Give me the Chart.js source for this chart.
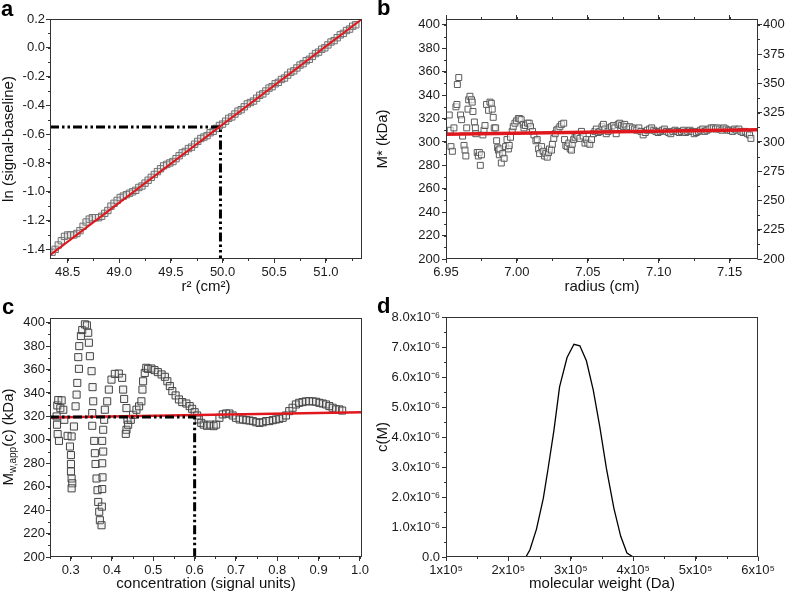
<!DOCTYPE html>
<html><head><meta charset="utf-8">
<script src="https://cdn.jsdelivr.net/npm/chart.js@4/dist/chart.umd.min.js"></script>
<style>
html,body{margin:0;padding:0;background:#fff}
body{width:787px;height:595px;overflow:hidden;position:relative;font-family:"Liberation Sans",Arial,sans-serif}
canvas{position:absolute;left:0;top:0}
.lbl{position:absolute;font-weight:bold;font-size:22px;line-height:22px;color:#000}
</style></head><body>
<canvas id="ca" width="787" height="595"></canvas>
<canvas id="cb" width="787" height="595"></canvas>
<canvas id="cc" width="787" height="595"></canvas>
<canvas id="cd" width="787" height="595"></canvas>
<div class="lbl" style="left:1px;top:-2px">a</div>
<div class="lbl" style="left:377px;top:-3px">b</div>
<div class="lbl" style="left:2px;top:296px">c</div>
<div class="lbl" style="left:377px;top:295px">d</div>
<script>
// ---------- Panel a ----------
const aR2 = [48.35,48.38,48.41,48.44,48.47,48.50,48.53,48.56,48.59,48.62,48.65,48.68,48.71,48.74,48.77,48.80,48.83,48.86,48.89,48.92,48.95,48.98,49.01,49.04,49.07,49.10,49.13,49.16,49.19,49.22,49.25,49.28,49.31,49.34,49.37,49.40,49.43,49.46,49.49,49.52,49.55,49.58,49.61,49.64,49.67,49.70,49.73,49.76,49.79,49.82,49.85,49.88,49.91,49.94,49.97,50.00,50.03,50.06,50.09,50.12,50.15,50.18,50.21,50.24,50.27,50.30,50.33,50.36,50.39,50.42,50.45,50.48,50.51,50.54,50.57,50.60,50.63,50.66,50.69,50.72,50.75,50.78,50.81,50.84,50.87,50.90,50.93,50.96,50.99,51.02,51.05,51.08,51.11,51.14,51.17,51.20,51.23,51.26,51.29];
const aLn = [-1.42,-1.40,-1.37,-1.34,-1.31,-1.30,-1.30,-1.30,-1.29,-1.27,-1.24,-1.21,-1.19,-1.18,-1.18,-1.18,-1.17,-1.15,-1.13,-1.10,-1.08,-1.06,-1.04,-1.03,-1.02,-1.01,-1.00,-0.99,-0.97,-0.96,-0.94,-0.92,-0.90,-0.88,-0.86,-0.84,-0.82,-0.81,-0.80,-0.79,-0.77,-0.75,-0.73,-0.72,-0.70,-0.69,-0.67,-0.65,-0.63,-0.62,-0.61,-0.59,-0.58,-0.56,-0.54,-0.53,-0.51,-0.49,-0.48,-0.46,-0.44,-0.43,-0.41,-0.39,-0.38,-0.37,-0.35,-0.33,-0.32,-0.30,-0.28,-0.27,-0.25,-0.24,-0.22,-0.21,-0.19,-0.17,-0.16,-0.14,-0.12,-0.11,-0.09,-0.08,-0.06,-0.04,-0.03,-0.01,0.00,0.02,0.04,0.05,0.07,0.09,0.10,0.12,0.13,0.15,0.16];
const aFitX = [48.33, 51.35];
const aFitY = [-1.44, 0.20];
const aGuideX = [48.33, 49.98, 49.98];
const aGuideY = [-0.55, -0.55, -1.467];
const aXTicks = [48.5,49.0,49.5,50.0,50.5,51.0];
const aXLabels = ['48.5','49.0','49.5','50.0','50.5','51.0'];
const aYTicks = [-1.4,-1.2,-1.0,-0.8,-0.6,-0.4,-0.2,0.0,0.2];
const aYLabels = ['-1.4','-1.2','-1.0','-0.8','-0.6','-0.4','-0.2','0.0','0.2'];

// ---------- Panel b ----------
const bRadius = [6.9523,6.9530,6.9535,6.9545,6.9556,6.9570,6.9577,6.9580,6.9590,6.9603,6.9610,6.9617,6.9627,6.9634,6.9640,6.9646,6.9655,6.9660,6.9669,6.9680,6.9685,6.9690,6.9700,6.9707,6.9710,6.9720,6.9728,6.9735,6.9742,6.9750,6.9760,6.9768,6.9775,6.9786,6.9800,6.9810,6.9820,6.9826,6.9833,6.9840,6.9850,6.9857,6.9864,6.9870,6.9876,6.9880,6.9890,6.9900,6.9910,6.9920,6.9930,6.9940,6.9946,6.9955,6.9967,6.9974,6.9986,6.9998,7.0010,7.0020,7.0030,7.0045,7.0050,7.0060,7.0075,7.0087,7.0096,7.0110,7.0120,7.0134,7.0143,7.0153,7.0160,7.0174,7.0185,7.0195,7.0204,7.0214,7.0223,7.0230,7.0244,7.0250,7.0260,7.0270,7.0280,7.0290,7.0303,7.0315,7.0330,7.0336,7.0345,7.0355,7.0366,7.0376,7.0385,7.0390,7.0400,7.0410,7.0420,7.0430,7.0444,7.0455,7.0467,7.0480,7.0490,7.0500,7.0514,7.0526,7.0540,7.0550,7.0560,7.0573,7.0585,7.0600,7.0610,7.0620,7.0630,7.0643,7.0655,7.0667,7.0680,7.0690,7.0700,7.0714,7.0725,7.0737,7.0750,7.0760,7.0770,7.0784,7.0796,7.0815,7.0830,7.0845,7.0860,7.0875,7.0890,7.0905,7.0920,7.0935,7.0950,7.0965,7.0980,7.0995,7.1010,7.1025,7.1040,7.1055,7.1070,7.1085,7.1100,7.1115,7.1130,7.1145,7.1160,7.1175,7.1190,7.1205,7.1220,7.1235,7.1250,7.1265,7.1280,7.1295,7.1310,7.1325,7.1340,7.1355,7.1370,7.1385,7.1400,7.1415,7.1430,7.1445,7.1460,7.1475,7.1490,7.1505,7.1520,7.1535,7.1550,7.1565,7.1580,7.1595,7.1610,7.1625,7.1640,7.1650];
const bMstar = [323,310,296,292,312,330,332,349,355,323,319,305,297,293,288,312,328,336,339,336,334,326,317,312,307,291,288,291,280,289,306,310,314,332,327,334,333,328,321,312,312,301,295,293,289,294,282,290,286,296,302,294,297,304,309,313,316,318,320,320,319,315,312,314,316,316,313,309,306,301,302,294,290,296,292,288,290,287,291,294,293,298,303,307,310,311,313,315,316,302,297,296,299,294,293,298,302,304,306,305,303,309,305,299,302,299,298,302,307,309,311,308,309,313,315,311,307,309,312,313,314,312,307,315,316,314,313,315,313,311,313,312,311,310,312,309,306,308,310,311,312,310,309,308,309,310,311,309,308,307,309,310,309,308,309,310,308,309,310,309,307,308,309,310,311,309,310,311,312,312,311,312,311,310,312,311,310,310,309,311,310,311,309,308,309,307,306,303];
const bFitX = [6.95, 7.17];
const bFitY = [306.5, 310.3];
const bXTicks = [6.95,7.00,7.05,7.10,7.15];
const bXLabels = ['6.95','7.00','7.05','7.10','7.15'];
const bYTicks = [200,220,240,260,280,300,320,340,360,380,400];
const bYLabels = ['200','220','240','260','280','300','320','340','360','380','400'];
const bY2Ticks = [200,225,250,275,300,325,350,375,400];
const bY2Labels = ['200','225','250','275','300','325','350','375','400'];

// ---------- Panel c ----------
const cConc = [0.2669,0.2685,0.2717,0.2660,0.2677,0.2700,0.2782,0.2750,0.2822,0.2846,0.2926,0.3023,0.2983,0.3007,0.3007,0.3007,0.3023,0.3039,0.3023,0.3079,0.3119,0.3144,0.3160,0.3200,0.3184,0.3208,0.3248,0.3280,0.3345,0.3393,0.3425,0.3441,0.3465,0.3506,0.3530,0.3546,0.3522,0.3522,0.3570,0.3586,0.3602,0.3626,0.3650,0.3667,0.3691,0.3707,0.3747,0.3755,0.3763,0.3771,0.3763,0.3787,0.3763,0.3787,0.3811,0.3827,0.3884,0.3924,0.3988,0.4069,0.4165,0.4246,0.4270,0.4294,0.4350,0.4374,0.4350,0.4334,0.4391,0.4455,0.4511,0.4592,0.4656,0.4712,0.4737,0.4753,0.4793,0.4830,0.4873,0.4954,0.503,0.511,0.520,0.528,0.534,0.540,0.546,0.554,0.562,0.570,0.580,0.588,0.594,0.600,0.606,0.610,0.616,0.622,0.630,0.638,0.646,0.652,0.660,0.668,0.676,0.684,0.692,0.700,0.709,0.717,0.725,0.733,0.741,0.749,0.757,0.765,0.773,0.781,0.789,0.797,0.805,0.813,0.821,0.829,0.837,0.845,0.853,0.861,0.869,0.877,0.886,0.894,0.902,0.910,0.918,0.926,0.934,0.942,0.950,0.957];
const cMw = [312.9,304.9,299.1,320.0,329.4,334.0,333.7,327.0,325.7,317.1,303.4,302.9,294.3,287.0,279.4,273.0,267.0,262.9,258.6,311.4,328.6,338.6,348.6,360.6,370.6,380.0,388.6,393.7,398.6,397.7,391.4,382.9,371.4,358.6,345.0,332.9,322.9,312.0,299.1,288.6,279.4,267.0,257.0,247.0,238.6,231.4,227.1,243.0,258.0,268.0,280.0,290.0,299.1,308.6,317.1,325.7,332.9,342.9,351.4,356.3,356.6,352.9,342.9,334.9,327.1,317.1,308.6,305.1,312.9,317.1,321.4,325.7,328.6,332.9,342.9,350.0,357.1,361.5,360.6,360.9,359.5,357.8,355.8,353.8,350.0,345.9,341.6,337.9,334.5,332.2,331.0,328.8,326.5,323.6,320.8,317.4,314.5,313.0,312.0,313.0,311.7,313.0,318.8,321.7,322.5,322.5,320.8,318.8,317.4,317.4,316.8,316.5,316.0,315.0,314.5,315.0,316.0,316.0,316.8,317.4,318.0,318.8,320.8,324.5,327.4,330.2,331.6,332.2,332.8,333.0,332.8,332.5,331.6,331.0,330.2,328.8,327.4,326.0,326.0,325.0];
const cFitX = [0.25, 1.005];
const cFitY = [319.0, 323.5];
const cGuideX = [0.25, 0.60, 0.60];
const cGuideY = [319.5, 319.5, 200];
const cXTicks = [0.3,0.4,0.5,0.6,0.7,0.8,0.9,1.0];
const cXLabels = ['0.3','0.4','0.5','0.6','0.7','0.8','0.9','1.0'];
const cYTicks = [200,220,240,260,280,300,320,340,360,380,400];
const cYLabels = ['200','220','240','260','280','300','320','340','360','380','400'];

// ---------- Panel d ----------
const dMW = [2.28e5,2.345e5,2.45e5,2.56e5,2.64e5,2.73e5,2.82e5,2.94e5,3.05e5,3.145e5,3.25e5,3.36e5,3.465e5,3.57e5,3.69e5,3.80e5,3.90e5,4.00e5];
const dCM = [0,0.24e-6,0.93e-6,1.96e-6,3.0e-6,4.23e-6,5.67e-6,6.65e-6,7.09e-6,7.04e-6,6.54e-6,5.56e-6,4.34e-6,2.96e-6,1.63e-6,0.69e-6,0.13e-6,0];
const dXTicks = [1e5,2e5,3e5,4e5,5e5,6e5];
const dXLabels = ['1x10\u2075','2x10\u2075','3x10\u2075','4x10\u2075','5x10\u2075','6x10\u2075'];
const dYTicks = [0,1e-6,2e-6,3e-6,4e-6,5e-6,6e-6,7e-6,8e-6];
const dYLabels = ['0.0','1.0x10\u207B\u2076','2.0x10\u207B\u2076','3.0x10\u207B\u2076','4.0x10\u207B\u2076','5.0x10\u207B\u2076','6.0x10\u207B\u2076','7.0x10\u207B\u2076','8.0x10\u207B\u2076'];

// ---------- helpers ----------
Chart.defaults.font.family = '"Liberation Sans", Arial, Helvetica, sans-serif';
Chart.defaults.font.size = 13;
Chart.defaults.color = '#1a1a1a';

const zip = (xs, ys) => xs.map((x, i) => ({x, y: ys[i]}));

function axis(o) {
  return {
    type: 'linear', position: o.pos, min: o.min, max: o.max,
    afterBuildTicks: s => { s.ticks = o.ticks.map(v => ({value: v})); },
    afterFit: s => { if (s.isHorizontal()) s.height = o.size; else s.width = o.size; },
    ticks: { autoSkip: false, maxRotation: 0, minRotation: 0, padding: o.pad === undefined ? 2 : o.pad,
             display: !!o.labels, callback: (v, i) => o.labels ? o.labels[i] : '', color: '#1a1a1a' },
    grid: { display: true, drawOnChartArea: false, drawTicks: true, tickLength: 4, color: '#333', tickColor: '#333', lineWidth: 1 },
    border: { display: false },
    title: o.title ? { display: true, text: o.title, font: {size: 15}, padding: 0, color: '#111' } : { display: false }
  };
}

const framePlugin = {
  id: 'frameMinor',
  afterDraw(chart, args, opts) {
    const ctx = chart.ctx, ca = chart.chartArea;
    ctx.save();
    ctx.strokeStyle = '#333'; ctx.lineWidth = 1;
    const L = Math.round(ca.left) + 0.5, R = Math.round(ca.right) - 0.5, T = Math.round(ca.top) + 0.5, B = Math.round(ca.bottom) - 0.5;
    ctx.strokeRect(L, T, R - L, B - T);
    (opts.minor || []).forEach(([id, step]) => {
      const s = chart.scales[id];
      const n0 = Math.ceil(s.min / step - 1e-6), n1 = Math.floor(s.max / step + 1e-6);
      ctx.beginPath();
      for (let n = n0; n <= n1; n++) {
        const p = Math.round(s.getPixelForValue(n * step)) + 0.5;
        if (s.position === 'bottom') { ctx.moveTo(p, B); ctx.lineTo(p, B + 2.5); }
        else if (s.position === 'top') { ctx.moveTo(p, T); ctx.lineTo(p, T - 2.5); }
        else if (s.position === 'left') { ctx.moveTo(L, p); ctx.lineTo(L - 2.5, p); }
        else { ctx.moveTo(R, p); ctx.lineTo(R + 2.5, p); }
      }
      ctx.stroke();
    });
    if (opts.yTitleSub) {
      const t = opts.yTitleSub;
      ctx.translate(t.x, t.y); ctx.rotate(-Math.PI / 2);
      ctx.fillStyle = '#111'; ctx.textBaseline = 'middle';
      const big = '15px "Liberation Sans", Arial, sans-serif', small = '10px "Liberation Sans", Arial, sans-serif';
      ctx.font = big; const w1 = ctx.measureText(t.main).width, w3 = ctx.measureText(t.rest).width;
      ctx.font = small; const w2 = ctx.measureText(t.sub).width;
      let x = -(w1 + w2 + w3) / 2;
      ctx.font = big; ctx.fillText(t.main, x, 0); x += w1;
      ctx.font = small; ctx.fillText(t.sub, x, 4); x += w2;
      ctx.font = big; ctx.fillText(t.rest, x, 0);
    }
    ctx.restore();
  }
};

function baseOpts(padding, scales, pluginOpts) {
  return {
    responsive: false, animation: false, events: [],
    layout: { padding },
    scales,
    plugins: { legend: {display: false}, tooltip: {enabled: false}, frameMinor: pluginOpts }
  };
}

const guideDash = [9, 3, 2.5, 3, 2.5, 3];

// ---------- chart a ----------
new Chart(document.getElementById('ca'), {
  type: 'scatter',
  data: { datasets: [
    { data: zip(aFitX, aFitY), showLine: true, borderColor: '#e0181e', borderWidth: 2, pointRadius: 0, order: 0 },
    { data: zip(aGuideX, aGuideY), showLine: true, borderColor: '#000', borderWidth: 3, borderDash: guideDash, pointRadius: 0, order: 1 },
    { data: zip(aR2, aLn), pointStyle: 'rect', pointRadius: 4.5, borderWidth: 1, borderColor: '#707070', backgroundColor: 'rgba(190,190,190,0.25)', order: 2 }
  ]},
  options: baseOpts({left: 0, right: 425, top: 19, bottom: 299}, {
    x: axis({pos: 'bottom', min: 48.33, max: 51.35, ticks: aXTicks, labels: aXLabels, size: 37, title: 'r\u00B2 (cm\u00B2)'}),
    y: axis({pos: 'left', min: -1.467, max: 0.2, ticks: aYTicks, labels: aYLabels, size: 50, pad: 1, title: 'ln (signal-baseline)'})
  }, { minor: [['x', 0.25], ['y', 0.1]] }),
  plugins: [framePlugin]
});

// ---------- chart b ----------
new Chart(document.getElementById('cb'), {
  type: 'scatter',
  data: { datasets: [
    { data: zip(bFitX, bFitY), showLine: true, borderColor: '#e0181e', borderWidth: 3.5, pointRadius: 0, order: 0 },
    { data: zip(bRadius, bMstar), pointStyle: 'rect', pointRadius: 4.2, borderWidth: 1, borderColor: '#5a5a5a', backgroundColor: 'rgba(255,255,255,0.6)', order: 1 }
  ]},
  options: baseOpts({left: 374, right: 0, top: 0, bottom: 299}, {
    x: axis({pos: 'bottom', min: 6.95, max: 7.17, ticks: bXTicks, labels: bXLabels, size: 37, title: 'radius (cm)'}),
    x2: axis({pos: 'top', min: 6.95, max: 7.17, ticks: bXTicks, labels: null, size: 19}),
    y: axis({pos: 'left', min: 200, max: 405, ticks: bYTicks, labels: bYLabels, size: 72, title: 'M* (kDa)'}),
    y2: axis({pos: 'right', min: 200, max: 405, ticks: bY2Ticks, labels: bY2Labels, size: 29, pad: 1})
  }, { minor: [['x', 0.025], ['x2', 0.025], ['y', 10], ['y2', 12.5]] }),
  plugins: [framePlugin]
});

// ---------- chart c ----------
new Chart(document.getElementById('cc'), {
  type: 'scatter',
  data: { datasets: [
    { data: zip(cGuideX, cGuideY), showLine: true, borderColor: '#000', borderWidth: 3, borderDash: guideDash, pointRadius: 0, order: 0 },
    { data: zip(cFitX, cFitY), showLine: true, borderColor: '#e0181e', borderWidth: 2.5, pointRadius: 0, order: 1 },
    { data: zip(cConc, cMw), pointStyle: 'rect', pointRadius: 5, borderWidth: 1, borderColor: '#444', backgroundColor: 'rgba(200,200,200,0.2)', order: 2 }
  ]},
  options: baseOpts({left: 0, right: 425, top: 318, bottom: 2}, {
    x: axis({pos: 'bottom', min: 0.25, max: 1.005, ticks: cXTicks, labels: cXLabels, size: 36, title: 'concentration (signal units)'}),
    y: axis({pos: 'left', min: 200, max: 404, ticks: cYTicks, labels: cYLabels, size: 50, pad: 1})
  }, { minor: [['x', 0.05], ['y', 10]], yTitleSub: {x: 9, y: 437, main: 'M', sub: 'w,app', rest: '(c) (kDa)'} }),
  plugins: [framePlugin]
});

// ---------- chart d ----------
new Chart(document.getElementById('cd'), {
  type: 'scatter',
  data: { datasets: [
    { data: zip(dMW, dCM), showLine: true, borderColor: '#000', borderWidth: 1.3, pointRadius: 0, tension: 0 }
  ]},
  options: baseOpts({left: 374, right: 29, top: 317, bottom: 2}, {
    x: axis({pos: 'bottom', min: 1e5, max: 6e5, ticks: dXTicks, labels: dXLabels, size: 36, title: 'molecular weight (Da)'}),
    y: axis({pos: 'left', min: 0, max: 8e-6, ticks: dYTicks, labels: dYLabels, size: 72, title: 'c(M)'})
  }, { minor: [['x', 0.5e5], ['y', 0.5e-6]] }),
  plugins: [framePlugin]
});
</script>
</body></html>
